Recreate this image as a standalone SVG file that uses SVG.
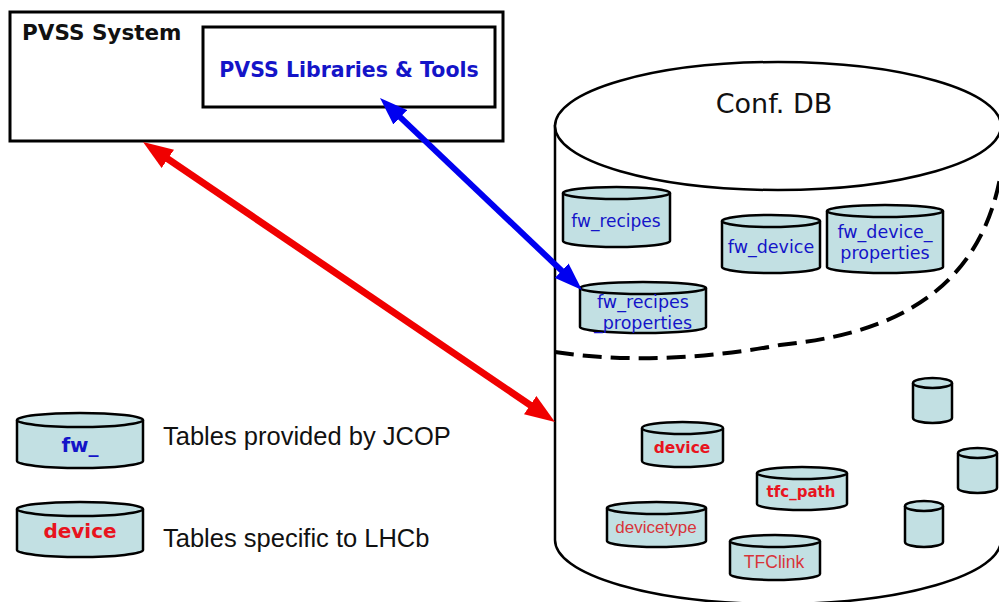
<svg xmlns="http://www.w3.org/2000/svg" width="999" height="602" viewBox="0 0 999 602">
<style>
.box{fill:#fff;stroke:#000;stroke-width:3}
.cyl{fill:#C2E0E3;stroke:#000;stroke-width:2.5}
.big{fill:#fff;stroke:#000;stroke-width:2.5}
.g{font-family:"DejaVu Sans",Arial,sans-serif}
.a{font-family:"Liberation Sans",Arial,sans-serif}
.blue{fill:#1414C8}
.red{fill:#E8141E}
.lred{fill:#D8343A}
</style>
<defs>
<marker id="hb" markerUnits="userSpaceOnUse" viewBox="0 0 28 20" markerWidth="28" markerHeight="20" refX="5" refY="10" orient="auto-start-reverse"><path d="M0,0 L28,10 L0,20 z" fill="#0000F0"/></marker>
<marker id="hr" markerUnits="userSpaceOnUse" viewBox="0 0 30 22" markerWidth="30" markerHeight="22" refX="5" refY="11" orient="auto-start-reverse"><path d="M0,0 L30,11 L0,22 z" fill="#F00000"/></marker>
</defs>
<rect width="999" height="602" fill="#fff"/>

<g id="pvss-system">
<rect class="box" x="10" y="12" width="493" height="129"/>
<text class="g" x="22" y="40" font-size="21.5" font-weight="bold" fill="#111">PVSS System</text>
</g>
<g id="pvss-libraries">
<rect class="box" x="203" y="27" width="292" height="80"/>
<text class="g blue" x="349" y="77" font-size="20.5" font-weight="bold" text-anchor="middle">PVSS Libraries &amp; Tools</text>
</g>

<g id="conf-db">
<path class="big" d="M555,126 V540 A223,64 0 0 0 1001,540 V126 Z"/>
<ellipse class="big" cx="778" cy="126" rx="223" ry="64"/>
<path d="M555,352 C620,362 700,360 780,345 C880,335 985,300 1003,160" fill="none" stroke="#000" stroke-width="4" stroke-dasharray="19 9"/>
<text class="g" x="774" y="113" font-size="27" text-anchor="middle" fill="#111">Conf. DB</text>
</g>

<g id="fw_recipes">
<path class="cyl" d="M563,193 V241 A53.5,6 0 0 0 670,241 V193"/>
<ellipse class="cyl" cx="616.5" cy="193" rx="53.5" ry="6"/>
<text class="g blue" x="616" y="227" font-size="17" text-anchor="middle">fw_recipes</text>
</g>
<g id="fw_device">
<path class="cyl" d="M722,221 V267 A49,6 0 0 0 820,267 V221"/>
<ellipse class="cyl" cx="771" cy="221" rx="49" ry="6"/>
<text class="g blue" x="771" y="253" font-size="17.5" text-anchor="middle">fw_device</text>
</g>
<g id="fw_device_properties">
<path class="cyl" d="M827,211 V267 A58,6 0 0 0 943,267 V211"/>
<ellipse class="cyl" cx="885" cy="211" rx="58" ry="6"/>
<text class="g blue" x="885" y="238" font-size="17.5" text-anchor="middle">fw_device_</text>
<text class="g blue" x="885" y="259" font-size="17.5" text-anchor="middle">properties</text>
</g>
<g id="fw_recipes_properties">
<path class="cyl" d="M580,288 V327 A63,6 0 0 0 706,327 V288"/>
<ellipse class="cyl" cx="643" cy="288" rx="63" ry="6"/>
<text class="g blue" x="643" y="308" font-size="17.5" text-anchor="middle">fw_recipes</text>
<text class="g blue" x="643" y="329" font-size="17.5" text-anchor="middle">_properties</text>
</g>

<g id="device">
<path class="cyl" d="M642,428 V461 A40.5,6 0 0 0 723,461 V428"/>
<ellipse class="cyl" cx="682.5" cy="428" rx="40.5" ry="6"/>
<text class="g red" x="682" y="453" font-size="15.5" font-weight="bold" text-anchor="middle">device</text>
</g>
<g id="tfc_path">
<path class="cyl" d="M757,473 V504 A45,6 0 0 0 847,504 V473"/>
<ellipse class="cyl" cx="802" cy="473" rx="45" ry="6"/>
<text class="g red" x="801" y="497" font-size="15" font-weight="bold" text-anchor="middle">tfc_path</text>
</g>
<g id="devicetype">
<path class="cyl" d="M607,508 V541 A49.5,6 0 0 0 706,541 V508"/>
<ellipse class="cyl" cx="656.5" cy="508" rx="49.5" ry="6"/>
<text class="a lred" x="656" y="533" font-size="17" text-anchor="middle">devicetype</text>
</g>
<g id="tfclink">
<path class="cyl" d="M730,541 V574 A45,6 0 0 0 820,574 V541"/>
<ellipse class="cyl" cx="775" cy="541" rx="45" ry="6"/>
<text class="a lred" x="774" y="568" font-size="17.5" text-anchor="middle">TFClink</text>
</g>
<g id="table-a">
<path class="cyl" d="M913,383 V418 A19.5,5 0 0 0 952,418 V383"/>
<ellipse class="cyl" cx="932.5" cy="383" rx="19.5" ry="5"/>
</g>
<g id="table-b">
<path class="cyl" d="M958,453 V488 A19.5,5 0 0 0 997,488 V453"/>
<ellipse class="cyl" cx="977.5" cy="453" rx="19.5" ry="5"/>
</g>
<g id="table-c">
<path class="cyl" d="M905,506 V542 A19,5 0 0 0 943,542 V506"/>
<ellipse class="cyl" cx="924" cy="506" rx="19" ry="5"/>
</g>

<g id="legend-jcop">
<path class="cyl" d="M17,420 V461 A63,7 0 0 0 143,461 V420"/>
<ellipse class="cyl" cx="80" cy="420" rx="63" ry="7"/>
<text class="g blue" x="80" y="452" font-size="20" font-weight="bold" text-anchor="middle">fw_</text>
<text class="a" x="163" y="445" font-size="25.5" fill="#111">Tables provided by JCOP</text>
</g>
<g id="legend-lhcb">
<path class="cyl" d="M17,509 V550 A63,7 0 0 0 143,550 V509"/>
<ellipse class="cyl" cx="80" cy="509" rx="63" ry="7"/>
<text class="g red" x="80" y="538" font-size="20" font-weight="bold" text-anchor="middle">device</text>
<text class="a" x="163" y="547" font-size="25.5" fill="#111">Tables specific to LHCb</text>
</g>

<g id="connectors">
<line x1="396.7" y1="113.9" x2="565.3" y2="274.1" stroke="#0000F0" stroke-width="6" marker-start="url(#hb)" marker-end="url(#hb)"/>
<line x1="163.7" y1="156.1" x2="534.3" y2="407.9" stroke="#F00000" stroke-width="7" marker-start="url(#hr)" marker-end="url(#hr)"/>
</g>
</svg>
